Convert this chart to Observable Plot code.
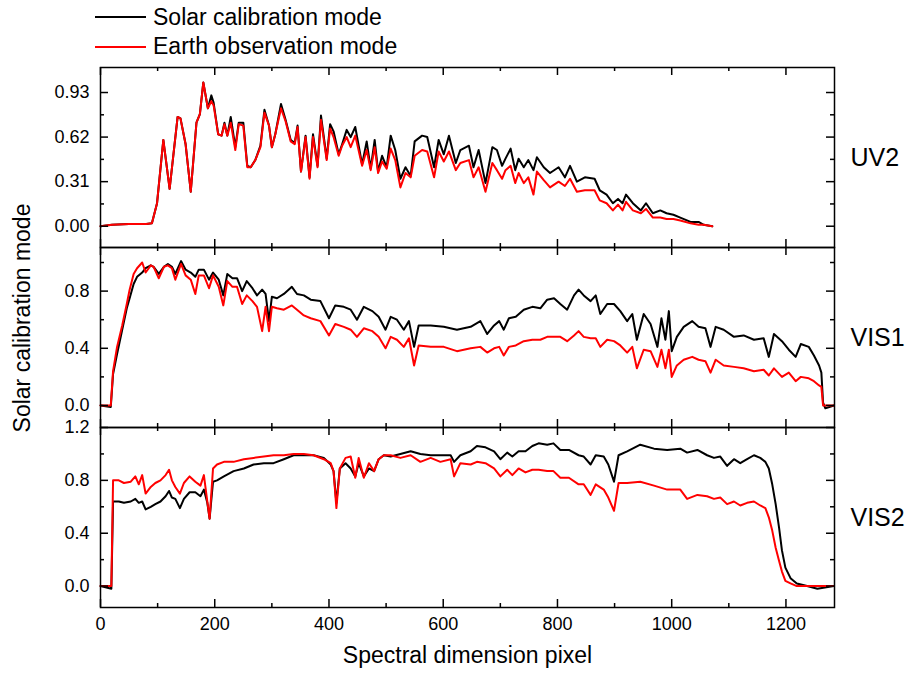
<!DOCTYPE html>
<html>
<head>
<meta charset="utf-8">
<script src="https://cdn.jsdelivr.net/npm/d3@7"></script>
<script src="https://cdn.jsdelivr.net/npm/@observablehq/plot@0.6"></script>
<style>
  html, body { margin: 0; padding: 0; background: #fff; }
  body { font-family: "Liberation Sans", Arial, sans-serif; color: #000; }
  #wrap { position: relative; width: 917px; height: 674px; overflow: hidden; }
  #legend { position: relative; width: 917px; height: 67px; }
  .leg { position: absolute; left: 95px; display: flex; align-items: center; font-size: 23px; line-height: 1; white-space: nowrap; }
  .leg .sw { width: 51px; height: 0; border-top: 2.5px solid #000; margin-right: 7px; }
  #ytitle { position: absolute; left: 22px; top: 318px; transform: translate(-50%, -50%) rotate(-90deg); font-size: 23px; white-space: nowrap; }
  svg { display: block; overflow: visible; }
</style>
</head>
<body>
<div id="wrap">
  <div id="legend"></div>
  <div id="plots"></div>
  <div id="ytitle">Solar calibration mode</div>
</div>
<script>
// ---------- data ----------
const seriesNames = ["Solar calibration mode", "Earth observation mode"];
const seriesColors = ["#000000", "#ff0000"];
const panelLabels = ["UV2", "VIS1", "VIS2"];
const xTitle = "Spectral dimension pixel";

const xMajor = [0, 200, 400, 600, 800, 1000, 1200];
const xMinor = [100, 300, 500, 700, 900, 1100];

const uv2Major = [0, 0.31, 0.62, 0.93];
const uv2Minor = [0.155, 0.465, 0.775];
const vis1Major = [0, 0.4, 0.8];
const vis1Minor = [0.2, 0.6, 1.0];
const vis2Major = [0, 0.4, 0.8, 1.2];
const vis2Minor = [0.2, 0.6, 1.0];

const uv2X = [0,20,50,80,90,99,110,121,135,140,
149,158,168,174,180,188,194,198,206,212,
217,222,228,236,242,250,257,263,271,280,
287,295,300,306,316,324,333,340,345,351,
359,366,372,380,386,396,402,408,417,423,
431,438,446,458,466,473,480,486,493,501,
508,516,525,534,543,550,563,572,584,592,
601,610,622,630,645,653,662,674,686,694,
703,709,718,726,732,741,749,758,764,776,
787,802,813,822,834,848,865,874,886,897,
906,914,920,932,946,955,967,980,991,1003,
1015,1033,1047,1056,1071];
const uv2Solar = [0.00,0.01,0.015,0.015,0.02,0.16,0.60,0.26,0.76,0.75,
0.57,0.24,0.72,0.78,1.00,0.82,0.91,0.86,0.64,0.63,
0.72,0.63,0.76,0.55,0.72,0.72,0.42,0.41,0.46,0.56,
0.81,0.70,0.55,0.64,0.85,0.74,0.60,0.58,0.70,0.38,
0.63,0.34,0.64,0.42,0.77,0.47,0.71,0.66,0.50,0.57,
0.67,0.62,0.69,0.43,0.59,0.40,0.60,0.38,0.49,0.41,
0.63,0.53,0.33,0.41,0.35,0.59,0.63,0.62,0.41,0.60,
0.50,0.63,0.44,0.53,0.56,0.41,0.53,0.30,0.55,0.53,
0.42,0.47,0.54,0.39,0.47,0.41,0.46,0.39,0.48,0.41,
0.37,0.41,0.34,0.42,0.31,0.34,0.33,0.25,0.22,0.16,
0.19,0.16,0.22,0.16,0.11,0.16,0.09,0.11,0.09,0.08,
0.06,0.03,0.03,0.01,0.00];
const uv2Earth = [0.00,0.01,0.015,0.015,0.02,0.16,0.60,0.26,0.76,0.75,
0.57,0.24,0.72,0.78,1.00,0.82,0.87,0.84,0.64,0.63,
0.71,0.63,0.72,0.53,0.71,0.70,0.41,0.41,0.46,0.55,
0.79,0.70,0.55,0.64,0.82,0.73,0.59,0.57,0.69,0.38,
0.62,0.33,0.62,0.41,0.74,0.46,0.68,0.62,0.49,0.56,
0.62,0.55,0.63,0.42,0.53,0.39,0.55,0.37,0.45,0.40,
0.54,0.46,0.27,0.37,0.34,0.49,0.53,0.52,0.34,0.52,
0.45,0.52,0.39,0.44,0.46,0.34,0.41,0.24,0.44,0.39,
0.33,0.39,0.42,0.30,0.37,0.30,0.34,0.22,0.38,0.32,
0.27,0.31,0.28,0.33,0.24,0.25,0.25,0.18,0.16,0.11,
0.15,0.11,0.17,0.11,0.09,0.12,0.06,0.06,0.05,0.05,
0.04,0.02,0.01,0.01,0.00];

const vis1X = [0,18,22,29,38,46,51,58,64,73,
79,88,93,102,111,118,125,131,141,149,
158,166,172,181,190,197,207,215,222,231,
239,248,256,266,274,283,289,295,300,309,
321,335,344,356,368,385,400,411,426,438,
449,461,476,487,499,508,519,531,540,549,
557,578,601,624,648,665,677,689,698,706,
715,727,741,756,770,782,794,805,817,829,
837,846,858,867,875,887,899,910,922,931,
939,951,963,975,982,989,995,1000,1009,1021,
1036,1047,1059,1068,1077,1091,1109,1126,1144,1161,
1170,1179,1193,1205,1217,1226,1240,1249,1258,1262,
1265,1269,1284];
const vis1Solar = [0.00,-0.01,0.22,0.36,0.53,0.68,0.75,0.85,0.90,0.93,
0.96,0.98,0.97,0.92,0.97,0.99,0.97,0.92,1.01,0.95,
0.93,0.90,0.95,0.95,0.88,0.93,0.88,0.77,0.92,0.89,
0.89,0.80,0.87,0.82,0.77,0.81,0.78,0.59,0.76,0.75,
0.78,0.83,0.78,0.77,0.74,0.73,0.61,0.70,0.69,0.67,
0.60,0.69,0.66,0.62,0.53,0.62,0.60,0.53,0.59,0.41,
0.56,0.56,0.55,0.53,0.55,0.59,0.50,0.56,0.59,0.53,
0.61,0.62,0.67,0.69,0.68,0.74,0.75,0.71,0.67,0.77,
0.81,0.77,0.73,0.77,0.64,0.71,0.71,0.66,0.59,0.64,
0.46,0.64,0.57,0.41,0.61,0.46,0.66,0.38,0.48,0.55,
0.59,0.55,0.54,0.41,0.55,0.53,0.48,0.49,0.46,0.47,
0.34,0.50,0.45,0.39,0.34,0.43,0.41,0.35,0.28,0.23,
0.02,-0.02,0.00];
const vis1Earth = [0.00,0.00,0.24,0.41,0.56,0.71,0.81,0.92,0.96,1.00,
0.93,0.98,0.97,0.89,0.97,0.98,0.96,0.88,0.99,0.91,
0.88,0.78,0.91,0.91,0.82,0.91,0.83,0.70,0.87,0.83,
0.83,0.71,0.77,0.73,0.69,0.52,0.69,0.52,0.69,0.68,
0.67,0.70,0.67,0.63,0.61,0.59,0.49,0.57,0.55,0.53,
0.48,0.54,0.52,0.48,0.40,0.48,0.46,0.41,0.47,0.28,
0.42,0.41,0.41,0.38,0.40,0.41,0.37,0.40,0.41,0.35,
0.41,0.42,0.45,0.46,0.46,0.48,0.48,0.48,0.45,0.49,
0.52,0.48,0.47,0.47,0.41,0.46,0.45,0.42,0.37,0.41,
0.26,0.39,0.38,0.27,0.39,0.26,0.39,0.20,0.28,0.32,
0.34,0.32,0.31,0.23,0.32,0.28,0.27,0.26,0.24,0.25,
0.21,0.26,0.20,0.23,0.17,0.20,0.19,0.17,0.14,0.13,
0.00,0.00,0.00];

const vis2X = [0,19,22,32,41,53,61,67,73,79,
88,96,105,114,120,125,131,139,146,156,
166,175,181,187,191,197,204,216,233,251,
268,286,303,321,338,356,373,391,403,408,
413,419,429,438,446,452,461,470,479,487,
496,508,525,543,560,578,595,613,619,630,
648,659,674,689,700,712,721,732,744,756,
767,782,793,805,820,837,846,858,867,881,
889,899,907,922,945,969,992,1015,1027,1045,
1062,1074,1085,1097,1109,1120,1132,1144,1155,1164,
1170,1176,1182,1188,1193,1199,1208,1219,1237,1255,
1284];
const vis2Solar = [0.00,-0.02,0.64,0.64,0.63,0.64,0.66,0.63,0.64,0.58,
0.60,0.62,0.64,0.68,0.72,0.67,0.66,0.59,0.66,0.71,
0.71,0.68,0.73,0.63,0.51,0.79,0.80,0.83,0.87,0.89,
0.92,0.93,0.93,0.96,0.99,0.99,0.99,0.97,0.92,0.87,
0.63,0.89,0.93,0.89,0.83,0.93,0.83,0.89,0.87,0.96,
0.99,0.98,1.00,1.02,1.00,0.99,0.99,0.99,0.94,0.99,
1.02,1.06,1.05,1.02,0.96,1.01,0.98,1.02,1.02,1.06,
1.08,1.07,1.08,1.03,1.03,0.99,0.98,0.92,0.99,0.98,
0.92,0.79,0.99,1.02,1.07,1.04,1.03,1.04,1.01,1.03,
0.99,0.97,0.98,0.91,0.96,0.93,0.96,0.99,0.97,0.94,
0.89,0.77,0.62,0.44,0.27,0.14,0.06,0.02,0.00,-0.02,
0.00];
const vis2Earth = [0.00,0.00,0.80,0.80,0.78,0.79,0.83,0.77,0.84,0.70,
0.75,0.78,0.80,0.84,0.88,0.80,0.75,0.70,0.78,0.83,
0.79,0.76,0.84,0.64,0.51,0.89,0.92,0.94,0.94,0.96,
0.97,0.98,0.99,0.99,1.00,1.00,0.99,0.96,0.93,0.87,
0.59,0.89,0.97,0.98,0.82,0.97,0.82,0.93,0.87,0.96,
0.99,0.99,0.97,0.99,0.94,0.97,0.94,0.96,0.83,0.93,
0.92,0.94,0.93,0.89,0.83,0.88,0.84,0.89,0.86,0.88,
0.88,0.87,0.87,0.82,0.82,0.77,0.77,0.69,0.77,0.73,
0.67,0.57,0.78,0.78,0.79,0.76,0.73,0.73,0.66,0.69,
0.68,0.66,0.67,0.62,0.64,0.61,0.63,0.64,0.61,0.59,
0.52,0.42,0.29,0.19,0.11,0.04,0.02,0.00,0.00,0.00,
0.00];

// ---------- legend ----------
const legend = document.getElementById("legend");
seriesNames.forEach((name, i) => {
  const row = document.createElement("div");
  row.className = "leg";
  row.style.top = (17 + 29.5 * i - 12) + "px";
  row.style.height = "24px";
  const sw = document.createElement("div");
  sw.className = "sw";
  sw.style.borderTopColor = seriesColors[i];
  const tx = document.createElement("span");
  tx.textContent = name;
  row.appendChild(sw);
  row.appendChild(tx);
  legend.appendChild(row);
});

// ---------- panels ----------
const W = 917, ML = 100, MR = 83, PH = 180;
const innerW = W - ML - MR;
const xDomain = [0, 1285];
const font = "Liberation Sans, Arial, sans-serif";

function panel(cfg) {
  const n = Math.min(cfg.X.length, cfg.S.length, cfg.E.length);
  const rows = [];
  for (let i = 0; i < n; i++) rows.push({x: cfg.X[i], s: cfg.S[i], e: cfg.E[i]});
  const MB = cfg.bottom ? 67 : 0;
  const TL = 8, TS = 4;
  const marks = [
    Plot.line(rows, {x: "x", y: "s", stroke: seriesColors[0], strokeWidth: 2}),
    Plot.line(rows, {x: "x", y: "e", stroke: seriesColors[1], strokeWidth: 2}),
    // inward ticks on all four sides
    Plot.tickX(xMajor, {x: d => d, insetTop: PH - TL, stroke: "#000", strokeWidth: 1.5}),
    Plot.tickX(xMinor, {x: d => d, insetTop: PH - TS, stroke: "#000", strokeWidth: 1.5}),
    Plot.tickX(xMajor, {x: d => d, insetBottom: PH - TL, stroke: "#000", strokeWidth: 1.5}),
    Plot.tickX(xMinor, {x: d => d, insetBottom: PH - TS, stroke: "#000", strokeWidth: 1.5}),
    Plot.tickY(cfg.major, {y: d => d, insetRight: innerW - TL, stroke: "#000", strokeWidth: 1.5}),
    Plot.tickY(cfg.minor, {y: d => d, insetRight: innerW - TS, stroke: "#000", strokeWidth: 1.5}),
    Plot.tickY(cfg.major, {y: d => d, insetLeft: innerW - TL, stroke: "#000", strokeWidth: 1.5}),
    Plot.tickY(cfg.minor, {y: d => d, insetLeft: innerW - TS, stroke: "#000", strokeWidth: 1.5}),
    Plot.frame({stroke: "#000", strokeWidth: 1.5}),
    Plot.axisY({ticks: cfg.major, tickSize: 0, tickPadding: 11, tickFormat: cfg.fmt, fontSize: 18}),
    Plot.text([cfg.label], {frameAnchor: "right", dx: 16, textAnchor: "start", fontSize: 25, fill: "#000"})
  ];
  if (cfg.bottom) {
    marks.push(Plot.axisX({ticks: xMajor, tickSize: 0, tickPadding: 10, tickFormat: d => String(d), fontSize: 18, label: null}));
    marks.push(Plot.text([xTitle], {frameAnchor: "bottom", dy: 55, fontSize: 23, fill: "#000"}));
  }
  return Plot.plot({
    width: W,
    height: PH + MB,
    marginLeft: ML,
    marginRight: MR,
    marginTop: 0,
    marginBottom: MB,
    style: {fontFamily: font, fontSize: "18px", color: "#000", background: "transparent", overflow: "visible"},
    x: {domain: xDomain, axis: cfg.bottom ? undefined : null},
    y: {domain: cfg.yDomain},
    marks
  });
}

const plots = document.getElementById("plots");
plots.appendChild(panel({X: uv2X, S: uv2Solar, E: uv2Earth, yDomain: [-0.148, 1.104], major: uv2Major, minor: uv2Minor, fmt: d3.format(".2f"), label: panelLabels[0]}));
plots.appendChild(panel({X: vis1X, S: vis1Solar, E: vis1Earth, yDomain: [-0.154, 1.105], major: vis1Major, minor: vis1Minor, fmt: d3.format(".1f"), label: panelLabels[1]}));
plots.appendChild(panel({X: vis2X, S: vis2Solar, E: vis2Earth, yDomain: [-0.162, 1.2], major: vis2Major, minor: vis2Minor, fmt: d3.format(".1f"), label: panelLabels[2], bottom: true}));
</script>
</body>
</html>
